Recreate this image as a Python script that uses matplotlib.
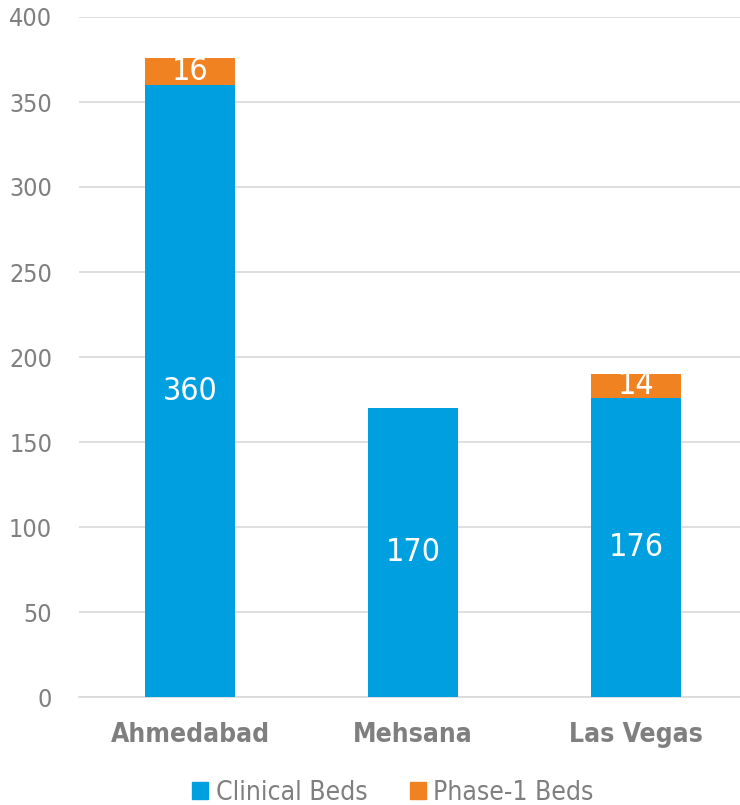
import matplotlib
matplotlib.use("Agg")
import matplotlib.pyplot as plt
from matplotlib.patches import Patch

categories = ["Ahmedabad", "Mehsana", "Las Vegas"]
clinical = [360, 170, 176]
phase1 = [16, 0, 14]
yticks = [0, 50, 100, 150, 200, 250, 300, 350, 400]

blue = "#009FDF"
orange = "#F08221"
gray = "#7F7F7F"

plt.rcParams['font.family'] = ['DejaVu Sans']
plt.rcParams['font.stretch'] = 'condensed'

fig = plt.figure(figsize=(7.4, 8.05), dpi=100)
ax = fig.add_axes([78.5/740, 1-697/805, 669/740, 680/805])
x = list(range(len(categories)))
b1 = ax.bar(x, clinical, width=0.4, color=blue, zorder=3)
b2 = ax.bar(x, phase1, width=0.4, bottom=clinical, color=orange, zorder=3)
for i in x:
    ax.text(i, clinical[i]/2, str(clinical[i]), ha='center', va='center',
            color='white', fontsize=23, zorder=4)
    if phase1[i] > 0:
        ax.text(i, clinical[i] + phase1[i]/2, str(phase1[i]), ha='center', va='center',
                color='white', fontsize=23, zorder=4)
ax.set_xlim(-0.5, 2.5)
ax.set_ylim(0, 400)
ax.set_yticks(yticks)
ax.set_yticklabels([str(v) for v in yticks], color=gray, fontsize=18)
ax.set_xticks(x)
ax.set_xticklabels(categories, color=gray, fontsize=19, fontweight='bold')
ax.tick_params(axis='both', length=0)
ax.tick_params(axis='y', pad=19)
ax.tick_params(axis='x', pad=18)
ax.grid(axis='y', color='#D9D9D9', linewidth=1.2, zorder=0)
for s in ['top', 'right', 'left']:
    ax.spines[s].set_visible(False)
ax.spines['bottom'].set_color('#D9D9D9')
ax.spines['bottom'].set_linewidth(1.2)
handles = [Patch(color=blue, label='Clinical Beds'), Patch(color=orange, label='Phase-1 Beds')]
fig.legend(handles=handles, loc='center', bbox_to_anchor=(393/740, 1-793/805), ncol=2,
           frameon=False, fontsize=19, labelcolor=gray, handlelength=0.6, handleheight=0.6,
           handletextpad=0.3, columnspacing=1.6)
fig.savefig("out.png", dpi=100)
